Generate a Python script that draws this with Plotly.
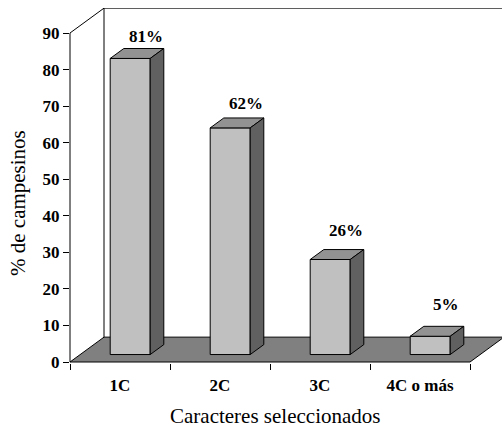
import plotly.graph_objects as go

# Data
categories = ["1C", "2C", "3C", "4C o más"]
percentages = [81, 62, 26, 5]
y_ticks = [0, 10, 20, 30, 40, 50, 60, 70, 80, 90]

# Pseudo-3D geometry (in axis units)
DX, DY = 0.34, 6.8          # full floor depth offset
F0, F1 = 0.3, 0.7           # bar depth span as fraction of the floor depth
BAR_W = 0.4                 # bar width in category units
Y_MAX = 90

FRONT = "#C0C0C0"
TOP = "#929292"
SIDE = "#606060"
FLOOR = "#808080"
SERIF = "Liberation Serif"

W, H = 502, 428
M_L, M_R, M_T, M_B = 70, 0, 8, 65
px_per_unit = (362 - 33) / Y_MAX
y_lo = -(H - M_B - 362) / px_per_unit
y_hi = Y_MAX + (33 - M_T) / px_per_unit
x_lo = -0.5
x_hi = x_lo + (W - M_L - M_R) / 100.0

fig = go.Figure()


def face(xs, ys, color):
    fig.add_trace(go.Scatter(
        x=xs + [xs[0]], y=ys + [ys[0]], mode="lines", fill="toself",
        fillcolor=color, line=dict(color="black", width=1),
        hoverinfo="skip", showlegend=False))


# Floor
n = len(categories)
fx0, fx1 = -0.5, n - 0.5
face([fx0, fx1, fx1 + DX, fx0 + DX], [0, 0, DY, DY], FLOOR)

# Bars: front, top and right-side faces
ddx, ddy = (F1 - F0) * DX, (F1 - F0) * DY
for i, v in enumerate(percentages):
    xl = i - BAR_W / 2 + F0 * DX
    xr = i + BAR_W / 2 + F0 * DX
    yb = F0 * DY
    yt = yb + v
    face([xl, xr, xr, xl], [yb, yb, yt, yt], FRONT)
    face([xl, xr, xr + ddx, xl + ddx], [yt, yt, yt + ddy, yt + ddy], TOP)
    face([xr, xr + ddx, xr + ddx, xr], [yb, yb + ddy, yt + ddy, yt], SIDE)

# Wall edges and value axis line
edge = dict(color="black", width=1)
shapes = [
    dict(type="line", xref="x", yref="y", x0=fx0 + DX, y0=DY, x1=fx0 + DX, y1=Y_MAX + DY, line=edge),
    dict(type="line", xref="x", yref="y", x0=fx0 + DX, y0=Y_MAX + DY, x1=fx1 + DX, y1=Y_MAX + DY, line=edge),
    dict(type="line", xref="x", yref="y", x0=fx0, y0=Y_MAX, x1=fx0 + DX, y1=Y_MAX + DY, line=edge),
    dict(type="line", xref="paper", yref="y", x0=0, y0=0, x1=0, y1=Y_MAX, line=edge),
]

bold_font = dict(family=SERIF, size=17, color="black", weight="bold")

# Value labels above each bar
annotations = []
for i, v in enumerate(percentages):
    annotations.append(dict(
        x=i + F1 * DX + 0.02, y=v + F1 * DY, xref="x", yref="y",
        text=f"{v}%", showarrow=False, xanchor="center", yanchor="middle",
        yshift=23 - 0.14 * v, font=bold_font))

# Axis titles
annotations.append(dict(
    x=(275 - M_L) / (W - M_L - M_R), y=(362 - 415) / (H - M_T - M_B),
    xref="paper", yref="paper", text="Caracteres seleccionados", showarrow=False,
    xanchor="center", yanchor="middle",
    font=dict(family=SERIF, size=21, color="black")))
annotations.append(dict(
    x=(18 - M_L) / (W - M_L - M_R), y=(H - M_B - 203) / (H - M_T - M_B),
    xref="paper", yref="paper", text="% de campesinos", showarrow=False,
    textangle=-90, xanchor="center", yanchor="middle",
    font=dict(family=SERIF, size=21, color="black")))

fig.update_layout(
    width=W, height=H,
    margin=dict(l=M_L, r=M_R, t=M_T, b=M_B),
    paper_bgcolor="white", plot_bgcolor="white",
    showlegend=False,
    shapes=shapes, annotations=annotations,
    xaxis=dict(
        range=[x_lo, x_hi], showgrid=False, zeroline=False, showline=False,
        tickmode="array", tickvals=list(range(n)), ticktext=categories,
        ticks="", tickfont=bold_font, ticklabelstandoff=10,
        minor=dict(tickmode="array", tickvals=[k - 0.5 for k in range(n + 1)],
                   ticks="outside", ticklen=6, tickcolor="black", tickwidth=1, showgrid=False),
    ),
    yaxis=dict(
        range=[y_lo, y_hi], showgrid=False, zeroline=False, showline=False,
        tickmode="array", tickvals=y_ticks,
        ticks="outside", ticklen=6, tickcolor="black", tickwidth=1,
        tickfont=bold_font,
    ),
)

fig.write_html("out.html")
